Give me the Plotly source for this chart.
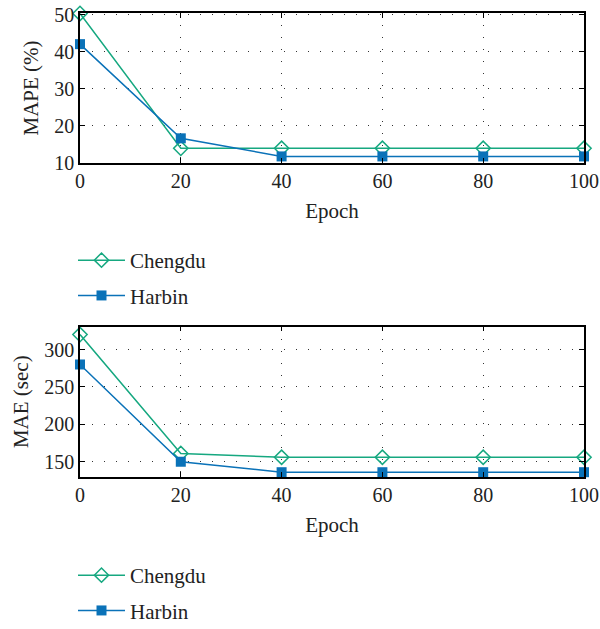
import plotly.graph_objects as go

epochs = [0, 20, 40, 60, 80, 100]
mape_chengdu = [50.4, 13.9, 13.9, 13.9, 13.9, 13.9]
mape_harbin = [42.1, 16.6, 11.7, 11.7, 11.7, 11.7]
mae_chengdu = [320, 161, 156, 156, 156, 156]
mae_harbin = [280, 150, 136, 136, 136, 136]

x_ticks = [0, 20, 40, 60, 80, 100]
mape_ticks = [10, 20, 30, 40, 50]
mae_ticks = [150, 200, 250, 300]

GREEN = "#16a880"
BLUE = "#0a72b8"
FONT = "Liberation Serif"

fig = go.Figure()

def add_pair(xa, ya, yc, yh, legend):
    fig.add_trace(go.Scatter(
        x=epochs, y=yc, name="Chengdu", mode="lines+markers",
        xaxis=xa, yaxis=ya, legend=legend, legendgroup=legend + "c",
        line=dict(color=GREEN, width=1.5),
        marker=dict(symbol="diamond-open", size=11, color=GREEN, line=dict(width=1.5, color=GREEN)),
        cliponaxis=False))
    fig.add_trace(go.Scatter(
        x=epochs, y=yh, name="Harbin", mode="lines+markers",
        xaxis=xa, yaxis=ya, legend=legend, legendgroup=legend + "h",
        line=dict(color=BLUE, width=1.5),
        marker=dict(symbol="square", size=10, color=BLUE),
        cliponaxis=False))

add_pair("x", "y", mape_chengdu, mape_harbin, "legend")
add_pair("x2", "y2", mae_chengdu, mae_harbin, "legend2")

W, H = 600, 629

def px_x(p):
    return p / W

def px_y(p):
    return 1 - p / H

def dom_y(top_px, bot_px):
    return [px_y(bot_px), px_y(top_px)]

axis_common = dict(
    showline=True, linecolor="black", linewidth=1.5, mirror="ticks",
    ticks="inside", ticklen=5, tickcolor="black", tickwidth=1.2,
    showgrid=True, gridcolor="#333333", gridwidth=1, griddash="1px,11px",
    zeroline=False, tickfont=dict(family=FONT, size=20, color="#222"),
    automargin=False,
)
TFONT = dict(family=FONT, size=21, color="#222")

xdom = [px_x(80), px_x(584)]

fig.update_layout(
    width=W, height=H, margin=dict(l=0, r=0, t=0, b=0, autoexpand=False),
    plot_bgcolor="white", paper_bgcolor="white",
    font=dict(family=FONT, size=20, color="#222"),
    xaxis=dict(domain=xdom, anchor="y", range=[0, 100], tickvals=x_ticks,
               title=dict(text="Epoch", font=TFONT, standoff=12), **axis_common),
    yaxis=dict(domain=dom_y(13.3, 162.7), anchor="x", range=[10, 50.45], tickvals=mape_ticks,
               title=dict(text="MAPE (%)", font=TFONT, standoff=10), **axis_common),
    xaxis2=dict(domain=xdom, anchor="y2", range=[0, 100], tickvals=x_ticks,
                title=dict(text="Epoch", font=TFONT, standoff=12), **axis_common),
    yaxis2=dict(domain=dom_y(326.7, 476.7), anchor="x2", range=[130, 330.5], tickvals=mae_ticks,
                title=dict(text="MAE (sec)", font=TFONT, standoff=10), **axis_common),
    legend=dict(x=px_x(73), y=px_y(240), xanchor="left", yanchor="top", itemwidth=47,
                font=TFONT, tracegroupgap=5, bgcolor="rgba(0,0,0,0)"),
    legend2=dict(x=px_x(73), y=px_y(555), xanchor="left", yanchor="top", itemwidth=47,
                 font=TFONT, tracegroupgap=5, bgcolor="rgba(0,0,0,0)"),
)

fig.write_html(
    "out.html",
    config={"displayModeBar": False},
    post_script="document.body.style.margin='0';document.body.style.overflow='hidden';",
)
